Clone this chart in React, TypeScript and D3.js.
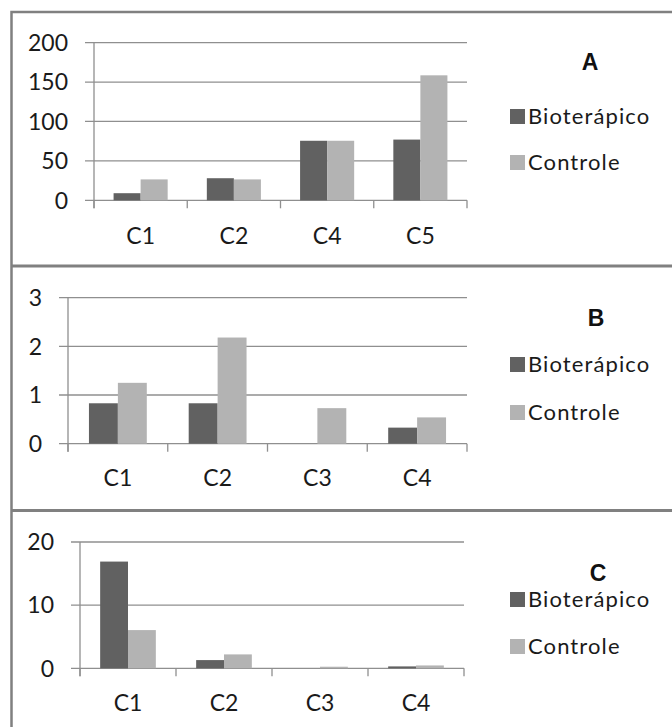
import React from "react";
import * as d3 from "d3";

const series = ["Bioterápico", "Controle"];
const colors = ["#616161", "#b3b3b3"];

const catsA = ["C1", "C2", "C4", "C5"];
const bioA = [9, 28, 75.5, 77];
const ctlA = [26.5, 26.5, 75.5, 158.5];
const ticksA = [0, 50, 100, 150, 200];

const catsB = ["C1", "C2", "C3", "C4"];
const bioB = [0.83, 0.83, 0, 0.33];
const ctlB = [1.25, 2.18, 0.73, 0.54];
const ticksB = [0, 1, 2, 3];

const catsC = ["C1", "C2", "C3", "C4"];
const bioC = [16.9, 1.3, 0, 0.3];
const ctlC = [6.05, 2.2, 0.25, 0.45];
const ticksC = [0, 10, 20];

interface IPanel {
  letter: string;
  cats: string[];
  values: number[][];
  ticks: number[];
  left: number;
  right: number;
  y0: number;
  yTop: number;
  labelY: number;
  letterX: number;
  letterY: number;
  legendY: number[];
}

const panels: IPanel[] = [
  { letter: "A", cats: catsA, values: [bioA, ctlA], ticks: ticksA, left: 94, right: 467, y0: 200.3, yTop: 42.6, labelY: 244, letterX: 590, letterY: 70, legendY: [109, 155] },
  { letter: "B", cats: catsB, values: [bioB, ctlB], ticks: ticksB, left: 68, right: 467, y0: 443.7, yTop: 297.6, labelY: 486, letterX: 596, letterY: 326, legendY: [357, 405] },
  { letter: "C", cats: catsC, values: [bioC, ctlC], ticks: ticksC, left: 80, right: 464, y0: 668.3, yTop: 542, labelY: 711, letterX: 598, letterY: 581, legendY: [592, 639] },
];

const grid = "#8f8f8f";
const font = "Lato, 'Open Sans', sans-serif";

function Panel({ p }: { p: IPanel }) {
  const x = d3.scaleBand<string>().domain(p.cats).range([p.left, p.right]).paddingInner(0.42).paddingOuter(0.21);
  const xs = d3.scaleBand<string>().domain(series).range([0, x.bandwidth()]);
  const y = d3.scaleLinear().domain([0, p.ticks[p.ticks.length - 1]]).range([p.y0, p.yTop]);
  const step = x.step();
  const bounds = d3.range(p.cats.length + 1).map((i) => p.left + i * step);

  return (
    <g>
      {p.ticks.map((t) => (
        <g key={t}>
          <line x1={p.left - 9} x2={p.right} y1={y(t)} y2={y(t)} stroke={grid} strokeWidth={1.3} />
          <text x={p.left - 26} y={y(t)} dy="0.36em" textAnchor="end" fontFamily={font} fontSize={23} fill="#1a1a1a">
            {t}
          </text>
        </g>
      ))}
      <line x1={p.left} x2={p.left} y1={p.yTop} y2={p.y0 + 8} stroke={grid} strokeWidth={1.3} />
      {bounds.map((b, i) => (
        <line key={i} x1={b} x2={b} y1={p.y0} y2={p.y0 + 8} stroke={grid} strokeWidth={1.3} />
      ))}
      {p.cats.map((c, i) => (
        <g key={c}>
          {series.map((s, j) => {
            const v = p.values[j][i];
            return (
              <rect key={s} x={(x(c) ?? 0) + (xs(s) ?? 0)} y={y(v)} width={xs.bandwidth()} height={y(0) - y(v)} fill={colors[j]} />
            );
          })}
          <text x={(x(c) ?? 0) + x.bandwidth() / 2} y={p.labelY} textAnchor="middle" fontFamily={font} fontSize={23} fill="#1a1a1a">
            {c}
          </text>
        </g>
      ))}
      <text x={p.letterX} y={p.letterY} textAnchor="middle" fontFamily="'Liberation Sans', Arial, sans-serif" fontWeight="bold" fontSize={23} fill="#111">
        {p.letter}
      </text>
      {series.map((s, j) => (
        <g key={s}>
          <rect x={510} y={p.legendY[j]} width={15} height={15} fill={colors[j]} />
          <text x={528} y={p.legendY[j] + 15} fontFamily={font} fontSize={22} letterSpacing={1.1} fill="#1a1a1a">
            {s}
          </text>
        </g>
      ))}
    </g>
  );
}

export default function App() {
  return (
    <svg width={672} height={727} style={{ position: "absolute", left: 0, top: 0, background: "#fff" }}>
      <rect x={11.5} y={12} width={700} height={760} fill="none" stroke="#808080" strokeWidth={2.5} />
      <line x1={11.5} x2={672} y1={266} y2={266} stroke="#808080" strokeWidth={3} />
      <line x1={11.5} x2={672} y1={510.5} y2={510.5} stroke="#808080" strokeWidth={3} />
      {panels.map((p) => (
        <Panel key={p.letter} p={p} />
      ))}
    </svg>
  );
}
